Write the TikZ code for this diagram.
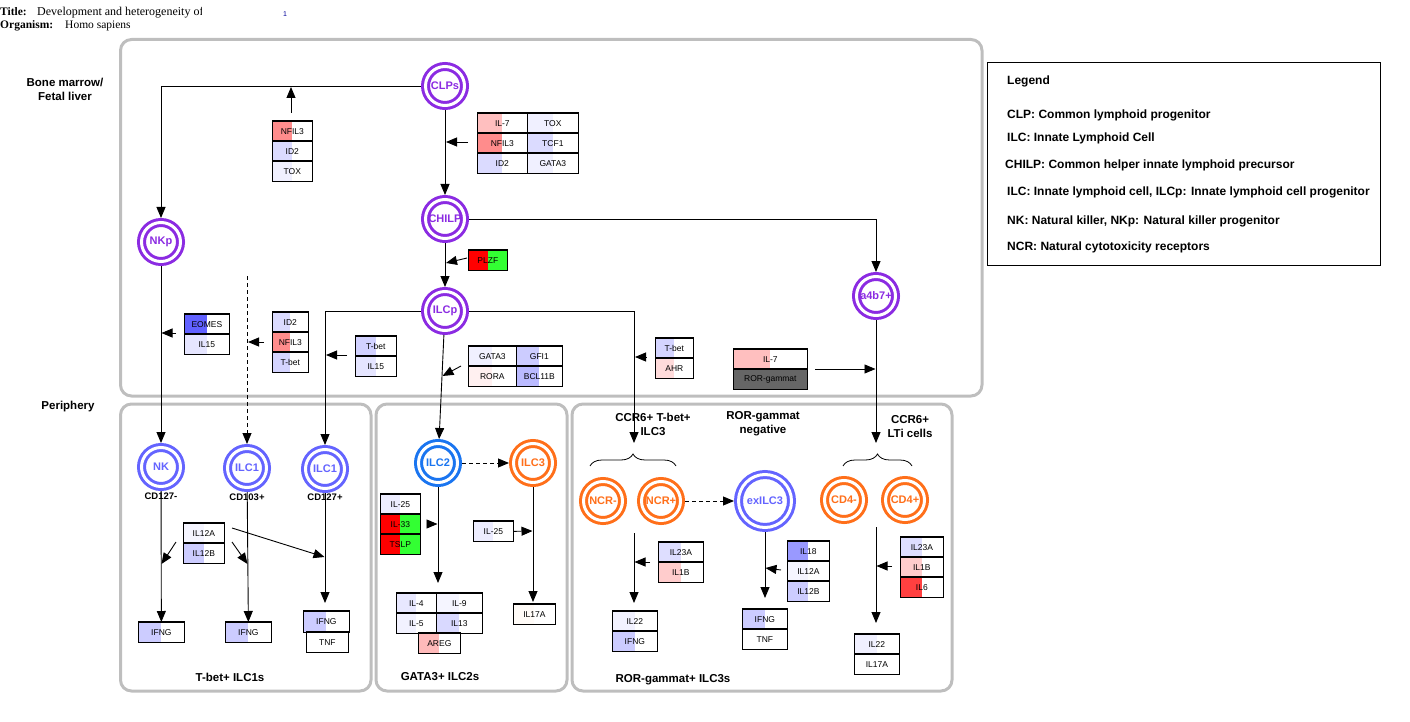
\documentclass[tikz,border=0pt]{standalone}
\usepackage{fontspec}
\setmainfont{Liberation Sans}
\newfontfamily\titlefont{Liberation Serif}
\usetikzlibrary{arrows.meta,decorations.pathreplacing}

\definecolor{panelgray}{HTML}{BEBEBE}
\definecolor{ilcpurple}{HTML}{8B2BE2}
\definecolor{ilcperi}{HTML}{6464FF}
\definecolor{ilcblue}{HTML}{1A75F0}
\definecolor{ilcorange}{HTML}{FF6F1A}
\definecolor{rorgray}{HTML}{666666}
\definecolor{upred}{HTML}{FF0000}
\definecolor{upgreen}{HTML}{33FF33}

\tikzset{
  panel/.style={draw=panelgray, line width=3pt, rounded corners=11pt},
  cell/.style={circle, line width=3pt, double=white, double distance=3pt,
    minimum size=39pt, inner sep=0pt, outer sep=4.5pt, fill=white,
    font=\bfseries\fontsize{11}{12}\selectfont},
  bigcell/.style={cell, minimum size=53pt},
  conn/.style={line width=0.9pt, -{Triangle[length=11pt,width=9pt]}},
  dconn/.style={conn, dash pattern=on 4pt off 3pt},
  half/.style={path picture={\fill[#1] (path picture bounding box.south west)
    rectangle (path picture bounding box.north);}},
  gcell/.style={draw, line width=0.7pt, inner sep=0pt, fill=white,
    font=\fontsize{8.5}{9}\selectfont},
  region/.style={font=\bfseries\fontsize{11.5}{14}\selectfont, align=center, inner sep=0pt},
  marker/.style={font=\bfseries\fontsize{9.5}{11}\selectfont, inner sep=0pt},
  legendtext/.style={anchor=base west, inner sep=0pt, font=\bfseries\fontsize{12}{13}\selectfont},
  brace/.style={decorate, decoration={brace, amplitude=12pt}, line width=0.8pt},
}

% one table cell of a gene box: [extra options]{name}{left}{top}{width}{height}{left-half colour}{label}
\newcommand\genecell[8][]{%
  \node[gcell, anchor=north west, minimum width=#5pt, minimum height=#6pt, half=#7, #1] (#2) at (#3,#4) {#8};
  \draw[line width=1.5pt] (#2.north west) -- (#2.north east) -- (#2.south east);}

\begin{document}
\begin{tikzpicture}[x=1pt,y=-1pt]
\useasboundingbox (0,0) rectangle (1410,722);

% header
\node[anchor=base west, inner sep=0pt, font=\titlefont\bfseries\fontsize{11.5}{13}\selectfont] (ttlkey) at (0,16) {Title:};
\begin{scope}
  \clip (0,0) rectangle (201,22);
  \node[anchor=base west, inner sep=0pt, font=\titlefont\fontsize{12}{13}\selectfont] (ttlval) at (37,16) {Development and heterogeneity of};
\end{scope}
\node[anchor=base west, inner sep=0pt, font=\fontsize{7}{8}\selectfont, text=blue!60!black] (pagenum) at (283,17) {1};
\node[anchor=base west, inner sep=0pt, font=\titlefont\bfseries\fontsize{11.5}{13}\selectfont] (orgkey) at (0,29) {Organism:};
\node[anchor=base west, inner sep=0pt, font=\titlefont\fontsize{11.5}{13}\selectfont] (orgval) at (65,29) {Homo sapiens};

% compartments
\draw[panel] (120.5,39.5) rectangle (982,396);
\draw[panel] (120.5,404) rectangle (371,691);
\draw[panel] (376,404) rectangle (567,691);
\draw[panel] (572,404) rectangle (952,691);

\node[region] (bm) at (65,89) {Bone marrow/\\Fetal liver};
\node[region] (peri) at (68,407) {Periphery};
\node[region] (lilc1) at (230,677) {T-bet+ ILC1s};
\node[region] (lilc2) at (440,677) {GATA3+ ILC2s};
\node[region] (lilc3) at (673,680) {ROR-gammat+ ILC3s};
\node[region] (lccr) at (653,424) {CCR6+ T-bet+\\ILC3};
\node[region] (lror) at (763,424) {ROR-gammat\\negative};
\node[region] (llti) at (910,427) {CCR6+\\LTi cells};

% cells
\node[cell, draw=ilcpurple, text=ilcpurple] (CLPs) at (445,86) {CLPs};
\node[cell, draw=ilcpurple, text=ilcpurple] (CHILP) at (445,219) {CHILP};
\node[cell, draw=ilcpurple, text=ilcpurple] (ILCp) at (445,311) {ILCp};
\node[cell, draw=ilcpurple, text=ilcpurple] (NKp) at (161,242) {NKp};
\node[cell, draw=ilcpurple, text=ilcpurple] (a4b7) at (876,296) {a4b7+};
\node[cell, draw=ilcperi, text=ilcperi] (NK) at (161,467) {NK};
\node[cell, draw=ilcperi, text=ilcperi] (ILC1a) at (247,468) {ILC1};
\node[cell, draw=ilcperi, text=ilcperi] (ILC1b) at (325,469) {ILC1};
\node[cell, draw=ilcblue, text=ilcblue] (ILC2) at (438,463) {ILC2};
\node[cell, draw=ilcorange, text=ilcorange] (ILC3) at (533,463) {ILC3};
\node[cell, draw=ilcorange, text=ilcorange] (NCRm) at (603,501) {NCR-};
\node[cell, draw=ilcorange, text=ilcorange] (NCRp) at (661,501) {NCR+};
\node[bigcell, draw=ilcperi, text=ilcperi] (exILC3) at (765,501) {exILC3};
\node[cell, draw=ilcorange, text=ilcorange] (CD4m) at (844,500) {CD4-};
\node[cell, draw=ilcorange, text=ilcorange] (CD4p) at (905,500) {CD4+};

\node[marker] (m1) at (161,496) {CD127-};
\node[marker] (m2) at (247,497) {CD103+};
\node[marker] (m3) at (325,497) {CD127+};

% gene boxes, top compartment
\genecell{gNFIL3a}{272}{121}{40}{20}{red!45}{NFIL3}
\genecell{gID2a}{272}{141}{40}{20}{blue!14}{ID2}
\genecell{gTOXa}{272}{161}{40}{20}{blue!6}{TOX}
\genecell{gIL7a}{477}{113}{50}{20}{red!25}{IL-7}
\genecell{gTOXb}{527}{113}{51}{20}{blue!6}{TOX}
\genecell{gNFIL3b}{477}{133}{50}{20}{red!45}{NFIL3}
\genecell{gTCF1}{527}{133}{51}{20}{blue!14}{TCF1}
\genecell{gID2b}{477}{153}{50}{20}{blue!14}{ID2}
\genecell{gGATA3a}{527}{153}{51}{20}{blue!6}{GATA3}
\genecell[fill=upgreen]{gPLZF}{468}{250}{39}{20}{upred}{PLZF}
\genecell{gEOMES}{184}{314}{45}{20}{blue!62}{EOMES}
\genecell{gIL15a}{184}{334}{45}{20}{blue!10}{IL15}
\genecell{gID2c}{272}{312}{36}{20}{blue!14}{ID2}
\genecell{gNFIL3c}{272}{332}{36}{20}{red!45}{NFIL3}
\genecell{gTBETa}{272}{352}{36}{20}{blue!17}{T-bet}
\genecell{gTBETb}{355}{336}{41}{20}{blue!18}{T-bet}
\genecell{gIL15b}{355}{356}{41}{20}{blue!10}{IL15}
\genecell{gGATA3b}{468}{346}{48}{20}{blue!6}{GATA3}
\genecell{gGFI1}{516}{346}{46}{20}{blue!20}{GFI1}
\genecell{gRORA}{468}{366}{48}{20}{red!6}{RORA}
\genecell{gBCL11B}{516}{366}{46}{20}{blue!27}{BCL11B}
\genecell{gTBETc}{655}{338}{38}{20}{blue!17}{T-bet}
\genecell{gAHR}{655}{358}{38}{20}{red!14}{AHR}
\genecell{gIL7b}{733}{349}{74}{20}{red!25}{IL-7}
\genecell[fill=rorgray]{gRORG}{733}{369}{74}{20}{rorgray}{ROR-gammat}

% gene boxes, T-bet+ ILC1s
\genecell{gIL12A}{183}{523}{41}{20}{blue!4}{IL12A}
\genecell{gIL12B}{183}{543}{41}{20}{blue!20}{IL12B}
\genecell{gIFNG1}{138}{622}{46}{20}{blue!20}{IFNG}
\genecell{gIFNG2}{225}{622}{46}{20}{blue!20}{IFNG}
\genecell{gIFNG3}{303}{611}{46}{21}{blue!20}{IFNG}
\genecell{gTNF1}{306}{632}{42}{20}{white}{TNF}

% gene boxes, GATA3+ ILC2s
\genecell{gIL25a}{380}{494}{40}{20}{blue!7}{IL-25}
\genecell[fill=upgreen]{gIL33}{380}{514}{40}{20}{upred}{IL-33}
\genecell[fill=upgreen]{gTSLP}{380}{534}{40}{20}{upred}{TSLP}
\genecell{gIL25b}{473}{521}{40}{20}{blue!7}{IL-25}
\genecell{gIL17Aa}{513}{604}{42}{20}{orange!3}{IL17A}
\genecell{gIL4}{396}{593}{40}{20}{blue!9}{IL-4}
\genecell{gIL9}{436}{593}{46}{20}{blue!4}{IL-9}
\genecell{gIL5}{396}{613}{40}{20}{blue!5}{IL-5}
\genecell{gIL13}{436}{613}{46}{20}{blue!15}{IL13}
\genecell{gAREG}{418}{633}{42}{20}{red!27}{AREG}

% gene boxes, ROR-gammat+ ILC3s
\genecell{gIL23Aa}{658}{542}{45}{20}{blue!13}{IL23A}
\genecell{gIL1Ba}{658}{562}{45}{20}{red!20}{IL1B}
\genecell{gIL22a}{612}{611}{45}{20}{blue!5}{IL22}
\genecell{gIFNG4}{612}{631}{45}{20}{blue!20}{IFNG}
\genecell{gIL18}{787}{541}{42}{20}{blue!40}{IL18}
\genecell{gIL12Ab}{787}{561}{42}{20}{blue!4}{IL12A}
\genecell{gIL12Bb}{787}{581}{42}{20}{blue!20}{IL12B}
\genecell{gIFNG5}{742}{609}{45}{20}{blue!20}{IFNG}
\genecell{gTNF2}{742}{629}{45}{20}{white}{TNF}
\genecell{gIL23Ab}{900}{537}{43}{20}{blue!13}{IL23A}
\genecell{gIL1Bb}{900}{557}{43}{20}{red!20}{IL1B}
\genecell{gIL6}{900}{577}{43}{20}{red!75}{IL6}
\genecell{gIL22b}{854}{634}{45}{20}{blue!6}{IL22}
\genecell{gIL17Ab}{854}{654}{45}{20}{white}{IL17A}

% free ends of connectors
\coordinate (nfilS) at (291,113);  \coordinate (nfilE) at (291,87);
\coordinate (il7S) at (468,142);   \coordinate (il7E) at (446,142);
\coordinate (plzfS) at (467,258);  \coordinate (plzfE) at (446,263);
\coordinate (eomS) at (176,333);   \coordinate (eomE) at (161.5,333);
\coordinate (dTop) at (247,276);
\coordinate (id2S) at (264,342);   \coordinate (id2E) at (248,342);
\coordinate (tbS) at (347,355);    \coordinate (tbE) at (326,355);
\coordinate (gatS) at (461,366);   \coordinate (gatE) at (442.5,376);
\coordinate (t3End) at (634,443);
\coordinate (ahrS) at (646,357);   \coordinate (ahrE) at (635,357);
\coordinate (rorS) at (815,369);   \coordinate (rorE) at (875.5,369);
\coordinate (ltiEnd) at (876,443);
\coordinate (k1S) at (176,542);    \coordinate (k1E) at (161.5,564);
\coordinate (k2S) at (232,542);    \coordinate (k2E) at (247.5,564);
\coordinate (k3S) at (232,528);    \coordinate (k3E) at (324.5,557);
\coordinate (c127End) at (325,603);
\coordinate (ilc2End) at (438,583);
\coordinate (il25S) at (428,524);  \coordinate (il25E) at (437.5,524);
\coordinate (il25bE) at (532.5,531);
\coordinate (ilc3End) at (533,602);
\coordinate (ncrTop) at (634,533); \coordinate (ncrEnd) at (634,603);
\coordinate (ncrS) at (650,562);   \coordinate (ncrE) at (634.5,562);
\coordinate (exEnd) at (765,598);
\coordinate (exS) at (781,570);    \coordinate (exE) at (765.5,568);
\coordinate (cdTop) at (876,527);  \coordinate (cdEnd) at (876,623);
\coordinate (cdS) at (892,566);    \coordinate (cdE) at (876.5,566);

% lineage connectors
\draw[conn] (CLPs.west) -| (NKp.north);
\draw[conn] (nfilS) -- (nfilE);
\draw[conn] (CLPs) -- (CHILP);
\draw[conn] (il7S) -- (il7E);
\draw[conn] (CHILP.east) -| (a4b7.north);
\draw[conn] (CHILP) -- (ILCp);
\draw[conn] (plzfS) -- (plzfE);
\draw[conn] (NKp) -- (NK);
\draw[conn] (eomS) -- (eomE);
\draw[dconn] (dTop) -- (ILC1a.north);
\draw[conn] (id2S) -- (id2E);
\draw[conn] (ILCp.west) -| (ILC1b.north);
\draw[conn] (tbS) -- (tbE);
\draw[conn] (ILCp) -- (ILC2);
\draw[conn] (gatS) -- (gatE);
\draw[conn] (ILCp.east) -| (t3End);
\draw[conn] (ahrS) -- (ahrE);
\draw[conn] (rorS) -- (rorE);
\draw[conn] (a4b7) -- (ltiEnd);

% T-bet+ ILC1s
\draw[conn] (NK) -- (gIFNG1.north);
\draw[conn] (ILC1a) -- (gIFNG2.north);
\draw[conn] (ILC1b) -- (c127End);
\draw[conn] (k1S) -- (k1E);
\draw[conn] (k2S) -- (k2E);
\draw[conn] (k3S) -- (k3E);

% GATA3+ ILC2s
\draw[dconn] (ILC2.east) -- (ILC3.west);
\draw[conn] (ILC2) -- (ilc2End);
\draw[conn] (il25S) -- (il25E);
\draw[conn] (ILC3) -- (ilc3End);
\draw[conn] (gIL25b.east) -- (il25bE);

% ROR-gammat+ ILC3s
\draw[brace] (590,466) -- (676,466);
\draw[brace] (843,466) -- (912,466);
\draw[dconn] (NCRp.east) -- (exILC3.west);
\draw[conn] (ncrTop) -- (ncrEnd);
\draw[conn] (ncrS) -- (ncrE);
\draw[conn] (exILC3) -- (exEnd);
\draw[conn] (exS) -- (exE);
\draw[conn] (cdTop) -- (cdEnd);
\draw[conn] (cdS) -- (cdE);

% legend
\draw[line width=1pt] (987,63) rectangle (1380,265);
\node[legendtext] (lg0) at (1007,85) {Legend};
\node[legendtext] (lg1) at (1007,119) {CLP: Common lymphoid progenitor};
\node[legendtext] (lg2) at (1007,142) {ILC: Innate Lymphoid Cell};
\node[legendtext] (lg3) at (1005,169) {CHILP: Common helper innate lymphoid precursor};
\node[legendtext] (lg4) at (1007,196) {ILC: Innate lymphoid cell, ILCp: Innate lymphoid cell progenitor};
\node[legendtext] (lg5) at (1007,224) {NK: Natural killer, NKp: Natural killer progenitor};
\node[legendtext] (lg6) at (1007,250) {NCR: Natural cytotoxicity receptors};
\end{tikzpicture}
\end{document}
